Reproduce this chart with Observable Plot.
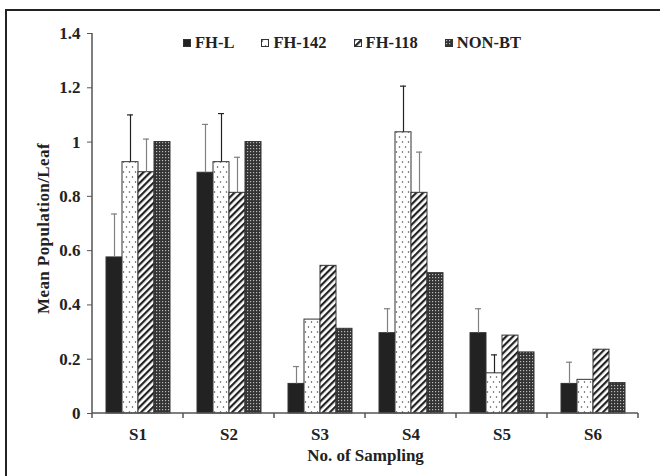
<!DOCTYPE html>
<html><head><meta charset="utf-8">
<script src="https://cdn.jsdelivr.net/npm/d3@7"></script>
<script src="https://cdn.jsdelivr.net/npm/@observablehq/plot@0.6"></script>
<style>
html,body{margin:0;padding:0;background:#fff;overflow:hidden;}
#wrap{position:relative;width:660px;height:476px;overflow:hidden;}
#border{position:absolute;left:5px;top:9px;width:800px;height:800px;border-left:2px solid #222;border-top:2px solid #222;}
#chart{position:absolute;left:0;top:0;}
#legend{position:absolute;top:34px;left:183px;display:flex;gap:27px;font:bold 16.5px "Liberation Serif",serif;color:#222;line-height:18px;white-space:nowrap;}
.item{display:flex;align-items:center;}
.item svg{margin-right:4px;}
</style></head>
<body>
<svg width="0" height="0" style="position:absolute">
<defs>
<pattern id="dots" patternUnits="userSpaceOnUse" width="6" height="10">
<rect width="6" height="10" fill="#fff"/>
<circle cx="1.5" cy="2" r="0.75" fill="#444"/>
<circle cx="4.5" cy="7" r="0.75" fill="#444"/>
</pattern>
<pattern id="hatch" patternUnits="userSpaceOnUse" width="4.8" height="4.8" patternTransform="rotate(45)">
<rect width="4.8" height="4.8" fill="#fff"/>
<rect width="2.2" height="4.8" fill="#222"/>
</pattern>
<pattern id="grid" patternUnits="userSpaceOnUse" width="3" height="3">
<rect width="3" height="3" fill="#333"/>
<rect x="1" y="1" width="1.2" height="1.2" fill="#bbb"/>
</pattern>
</defs></svg>
<div id="wrap"><div id="border"></div><div id="chart"></div><div id="legend"></div></div>
<script>
const categories = ["S1", "S2", "S3", "S4", "S5", "S6"];
const series = ["FH-L", "FH-142", "FH-118", "NON-BT"];
const fhL   = [0.575, 0.887, 0.109, 0.296, 0.296, 0.109];
const fh142 = [0.926, 0.926, 0.346, 1.036, 0.148, 0.124];
const fh118 = [0.889, 0.813, 0.544, 0.813, 0.287, 0.235];
const nonBt = [1.0, 1.0, 0.312, 0.517, 0.225, 0.112];
const errFhL   = [0.16, 0.178, 0.064, 0.09, 0.09, 0.08];
const errFh142 = [0.174, 0.179, null, 0.17, 0.068, null];
const errFh118 = [0.122, 0.131, null, 0.15, null, null];
const errNonBt = [null, null, null, null, null, null];
const yTicks = [0, 0.2, 0.4, 0.6, 0.8, 1, 1.2, 1.4];
const yTickLabels = ["0", "0.2", "0.4", "0.6", "0.8", "1", "1.2", "1.4"];
const fills = ["#222", "url(#dots)", "url(#hatch)", "url(#grid)"];
const errColors = ["#808080", "#222", "#808080", "#222"];

const values = [fhL, fh142, fh118, nonBt];
const errors = [errFhL, errFh142, errFh118, errNonBt];
const data = [];
series.forEach((s, j) => categories.forEach((c, i) => data.push({
  cat: c, series: s, value: values[j][i], err: errors[j][i], errColor: errColors[j]
})));
const errData = data.filter(d => d.err != null);
const errGray = errData.filter(d => d.errColor === "#808080");
const errBlack = errData.filter(d => d.errColor !== "#808080");
const errTop = d => d.value + d.err;

const plot = Plot.plot({
  width: 660, height: 476,
  marginLeft: 90, marginRight: 20, marginTop: 33, marginBottom: 63,
  style: {fontFamily: '"Liberation Serif", serif', fontWeight: "bold", fontSize: "17px", color: "#222", background: "transparent"},
  fx: {domain: categories, padding: 0, label: null},
  x: {domain: series, paddingInner: 0, paddingOuter: 0.74, axis: null},
  y: {domain: [0, 1.4]},
  color: {domain: series, range: fills},
  marks: [
    Plot.barY(data, {fx: "cat", x: "series", y: "value", fill: "series", stroke: "#333", strokeWidth: 1}),
    Plot.ruleX(errGray, {fx: "cat", x: "series", y1: "value", y2: errTop, stroke: "#808080", strokeWidth: 1.2}),
    Plot.tickY(errGray, {fx: "cat", x: "series", y: errTop, stroke: "#808080", strokeWidth: 1.2, insetLeft: 5, insetRight: 5}),
    Plot.ruleX(errBlack, {fx: "cat", x: "series", y1: "value", y2: errTop, stroke: "#222", strokeWidth: 1.2}),
    Plot.tickY(errBlack, {fx: "cat", x: "series", y: errTop, stroke: "#222", strokeWidth: 1.2, insetLeft: 5, insetRight: 5}),
    Plot.axisY({ticks: yTicks, tickFormat: d => yTickLabels[yTicks.indexOf(d)], tickSize: 5, tickPadding: 7,
      label: "Mean Population/Leaf", labelAnchor: "center", labelArrow: "none", labelOffset: 56, stroke: "#555"}),
    Plot.axisFx({anchor: "bottom", tickSize: 0, tickPadding: 14, label: "No. of Sampling", labelAnchor: "center", labelOffset: 47})
  ]
});

const svgEl = plot.tagName.toLowerCase() === "svg" ? plot : plot.querySelector("svg");
const svg = d3.select(svgEl);
const fx = plot.scale("fx"), y = plot.scale("y");
const y0 = y.apply(0), yTop = y.apply(1.4);
const left = fx.apply(categories[0]);
const right = fx.apply(categories[categories.length - 1]) + fx.bandwidth;
const g = svg.append("g").attr("stroke", "#555").attr("stroke-width", 1.5);
g.append("line").attr("x1", left).attr("x2", left).attr("y1", yTop).attr("y2", y0);
g.append("line").attr("x1", left).attr("x2", right).attr("y1", y0).attr("y2", y0);
const edges = categories.map(c => fx.apply(c)).concat([right]);
edges.forEach(e => g.append("line").attr("x1", e).attr("x2", e).attr("y1", y0).attr("y2", y0 + 5));
svg.selectAll("text").attr("fill", "#222");
svg.selectAll('g[aria-label="y-axis label"] text').style("font-size", "17px").style("letter-spacing", "0.4px").attr("dx", -5);

document.getElementById("chart").appendChild(plot);

const legend = d3.select("#legend");
series.forEach((s, j) => {
  const it = legend.append("div").attr("class", "item");
  const sw = it.append("svg").attr("width", 8).attr("height", 8);
  sw.append("rect").attr("x", 0.5).attr("y", 0.5).attr("width", 7).attr("height", 7)
    .attr("fill", fills[j]).attr("stroke", "#333").attr("stroke-width", 1);
  it.append("span").text(s);
});
</script>
</body></html>
